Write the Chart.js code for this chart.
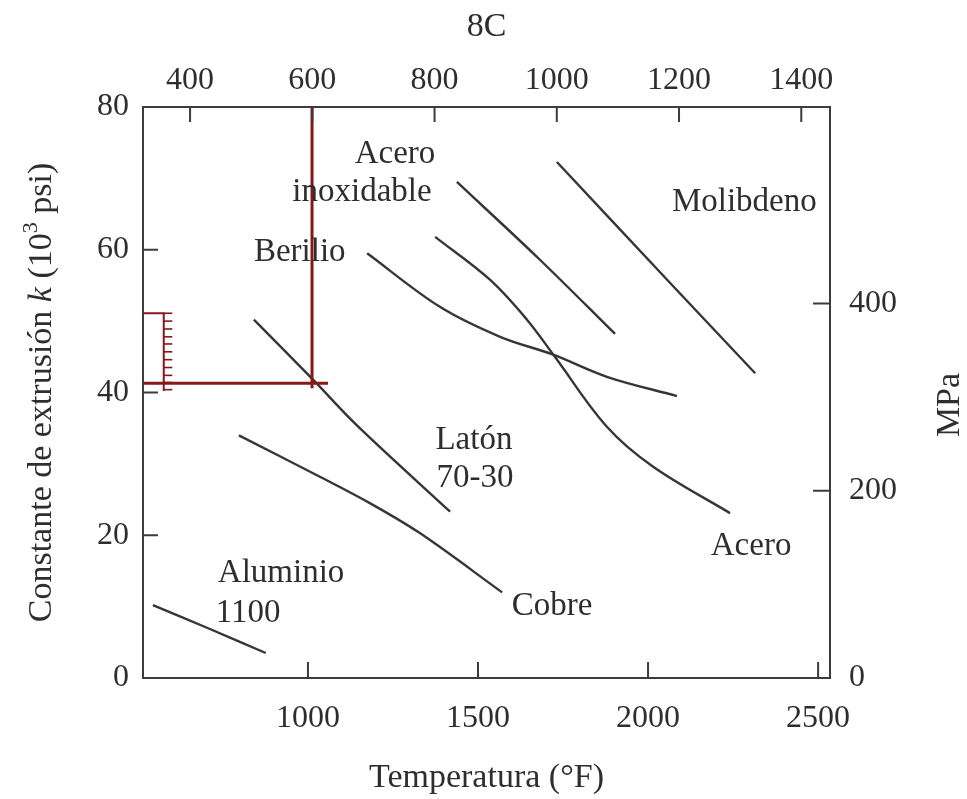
<!DOCTYPE html>
<html>
<head>
<meta charset="utf-8">
<script src="https://cdn.jsdelivr.net/npm/chart.js@4.4.0/dist/chart.umd.min.js"></script>
<style>
    html, body { margin: 0; padding: 0; background: #fff; }
    #wrap { width: 967px; height: 799px; }
</style>
</head>
<body>
<div id="wrap"><canvas id="extrusion-chart"></canvas></div>
<script>
// Temperatura (°F) and extrusion constant k (10^3 psi)
var aluminioF = [544, 710, 876];
var aluminioK = [10.2, 6.9, 3.5];
var cobreF = [797, 1035, 1182, 1329, 1571];
var cobreK = [34.0, 28.2, 24.5, 20.3, 12.0];
var latonF = [841, 1015, 1144, 1418];
var latonK = [50.2, 41.8, 35.4, 23.3];
var berilioF = [1174, 1388, 1565, 1721, 1879, 2085];
var berilioK = [59.5, 52.0, 47.8, 45.3, 42.2, 39.5];
var inoxF = [1438, 1682, 1903];
var inoxK = [69.5, 58.6, 48.2];
var aceroF = [1374, 1535, 1644, 1726, 1879, 2015, 2241];
var aceroK = [61.8, 55.8, 50.2, 45.0, 35.2, 29.6, 23.1];
var molibdenoF = [1732, 2056, 2315];
var molibdenoK = [72.3, 55.8, 42.7];

// red reading lines drawn over the figure
var readVertF = [1012, 1012];
var readVertK = [80, 40.6];
var readHorzF = [515, 1059];
var readHorzK = [41.3, 41.3];
var bracketF = [515, 565, 576, 576];
var bracketK = [51.1, 51.1, 51.1, 40.2];
var bracketTickF = 588;
var bracketTickK = [51.1, 50.0, 48.9, 47.8, 46.8, 45.7, 44.6, 43.5, 42.4, 41.4, 40.4];

// tick labels
var fTicks = [1000, 1500, 2000, 2500];
var cTicks = [400, 600, 800, 1000, 1200, 1400];
var kTicks = [0, 20, 40, 60, 80];
var mpaTicks = [0, 200, 400];

// curve labels: text, °F, k
var labelText = ["Acero", "inoxidable", "Berilio", "Molibdeno", "Latón", "70-30", "Cobre", "Aluminio", "1100", "Acero"];
var labelF = [1256, 1159, 976, 2283, 1488, 1491, 1718, 921, 824, 2303];
var labelK = [73.3, 68.1, 59.7, 66.6, 33.3, 28.0, 10.1, 14.6, 9.0, 18.4];

var serif = "'Liberation Serif', 'DejaVu Serif', serif";
var inkColor = "#2e2e2e";
var redColor = "#861818";

function pts(xs, ys) {
    return xs.map(function (x, i) { return { x: x, y: ys[i] }; });
}

function curve(xs, ys) {
    return {
        data: pts(xs, ys),
        showLine: true,
        borderColor: "#363636",
        borderWidth: 2.4,
        pointRadius: 0,
        tension: 0.35,
        order: 1,
    };
}

function redLine(xs, ys, w) {
    return {
        data: pts(xs, ys),
        showLine: true,
        borderColor: redColor,
        borderWidth: w,
        pointRadius: 0,
        tension: 0,
        order: 0,
    };
}

function fixedTicks(list) {
    return function (scale) {
        scale.ticks = list.map(function (v) { return { value: v }; });
    };
}

function plainNumber(v) {
    return String(v);
}

// inward tick marks, in-plot labels and the two rotated titles
var figurePlugin = {
    id: "figure",
    afterDatasetsDraw: function (chart) {
        var ctx = chart.ctx;
        var a = chart.chartArea;
        var s = chart.scales;
        ctx.save();
        ctx.strokeStyle = "#3c3c3c";
        ctx.lineWidth = 2;
        ctx.beginPath();
        fTicks.forEach(function (v) {
            var px = s.x.getPixelForValue(v);
            ctx.moveTo(px, a.bottom); ctx.lineTo(px, a.bottom - 16);
        });
        cTicks.forEach(function (v) {
            var px = s.xTop.getPixelForValue(v);
            ctx.moveTo(px, a.top); ctx.lineTo(px, a.top + 15);
        });
        kTicks.forEach(function (v) {
            var py = s.y.getPixelForValue(v);
            ctx.moveTo(a.left, py); ctx.lineTo(a.left + 15, py);
        });
        mpaTicks.forEach(function (v) {
            var py = s.yRight.getPixelForValue(v);
            ctx.moveTo(a.right, py); ctx.lineTo(a.right - 17, py);
        });
        ctx.stroke();

        ctx.fillStyle = inkColor;
        ctx.font = "33px " + serif;
        ctx.textAlign = "center";
        ctx.textBaseline = "middle";
        labelText.forEach(function (t, i) {
            ctx.fillText(t, s.x.getPixelForValue(labelF[i]), s.y.getPixelForValue(labelK[i]));
        });
        ctx.restore();
    },
    afterDraw: function (chart) {
        var ctx = chart.ctx;
        var a = chart.chartArea;
        ctx.save();
        ctx.fillStyle = inkColor;
        ctx.textBaseline = "middle";
        ctx.textAlign = "left";

        // left title with italic k and superscript 3
        var parts = [
            { t: "Constante de extrusión ", f: "34px " + serif, dy: 0 },
            { t: "k", f: "italic 34px " + serif, dy: 0 },
            { t: " (10", f: "34px " + serif, dy: 0 },
            { t: "3", f: "22px " + serif, dy: -11 },
            { t: " psi)", f: "34px " + serif, dy: 0 },
        ];
        var total = 0;
        parts.forEach(function (p) { ctx.font = p.f; p.w = ctx.measureText(p.t).width; total += p.w; });
        ctx.translate(42, (a.top + a.bottom) / 2);
        ctx.rotate(-Math.PI / 2);
        var cx = -total / 2;
        parts.forEach(function (p) {
            ctx.font = p.f;
            ctx.fillText(p.t, cx, p.dy);
            cx += p.w;
        });
        ctx.restore();

        // right title, reading bottom to top
        ctx.save();
        ctx.fillStyle = inkColor;
        ctx.font = "34px " + serif;
        ctx.textAlign = "center";
        ctx.textBaseline = "middle";
        ctx.translate(950, 405);
        ctx.rotate(-Math.PI / 2);
        ctx.fillText("MPa", 0, 0);
        ctx.restore();
    },
};

var ctx = document.getElementById("extrusion-chart");

var chartData = {
    datasets: [
        redLine(readVertF, readVertK, 3),
        redLine(readHorzF, readHorzK, 3),
        redLine(bracketF, bracketK, 2),
        {
            data: bracketTickK.map(function (k) { return { x: bracketTickF, y: k }; }),
            showLine: false,
            pointStyle: "line",
            pointRadius: 4.5,
            pointBorderColor: redColor,
            pointBorderWidth: 1.6,
            order: 0,
        },
        curve(aluminioF, aluminioK),
        curve(cobreF, cobreK),
        curve(latonF, latonK),
        curve(berilioF, berilioK),
        curve(inoxF, inoxK),
        curve(aceroF, aceroK),
        curve(molibdenoF, molibdenoK),
    ],
};

var tickFont = { family: serif, size: 32 };
var titleFont = { family: serif, size: 34 };
var axisBorder = { display: true, color: "#3c3c3c", width: 2 };
var noGrid = { drawOnChartArea: false, drawTicks: false };

var chartOptions = {
    responsive: true,
    maintainAspectRatio: false,
    animation: false,
    layout: { padding: 0 },
    plugins: {
        legend: { display: false },
        tooltip: { enabled: false },
    },
    scales: {
        x: {
            type: "linear",
            position: "bottom",
            min: 515,
            max: 2535,
            afterBuildTicks: fixedTicks(fTicks),
            afterFit: function (s) { s.height = 121; },
            ticks: { font: tickFont, color: inkColor, padding: 21, maxRotation: 0, callback: plainNumber },
            grid: noGrid,
            border: axisBorder,
            title: { display: true, text: "Temperatura (°F)", font: titleFont, color: inkColor, padding: { top: 0, bottom: 1 } },
        },
        xTop: {
            type: "linear",
            axis: "x",
            position: "top",
            min: 323,
            max: 1447,
            afterBuildTicks: fixedTicks(cTicks),
            afterFit: function (s) { s.height = 107; },
            ticks: { font: tickFont, color: inkColor, padding: 7, maxRotation: 0, callback: plainNumber },
            grid: noGrid,
            border: axisBorder,
            title: { display: true, text: "8C", font: titleFont, color: inkColor, padding: { top: 7, bottom: 0 } },
        },
        y: {
            type: "linear",
            position: "left",
            min: 0,
            max: 80,
            afterBuildTicks: fixedTicks(kTicks),
            afterFit: function (s) { s.width = 143; },
            ticks: { font: tickFont, color: inkColor, padding: 14, callback: plainNumber },
            grid: noGrid,
            border: axisBorder,
        },
        yRight: {
            type: "linear",
            axis: "y",
            position: "right",
            min: 0,
            max: 610,
            afterBuildTicks: fixedTicks(mpaTicks),
            afterFit: function (s) { s.width = 137; },
            ticks: { font: tickFont, color: inkColor, padding: 19, callback: plainNumber },
            grid: noGrid,
            border: axisBorder,
        },
    },
};

var config = {
    type: "scatter",
    data: chartData,
    options: chartOptions,
    plugins: [figurePlugin],
};

var extrusionChart = new Chart(ctx, config);
</script>
</body>
</html>
